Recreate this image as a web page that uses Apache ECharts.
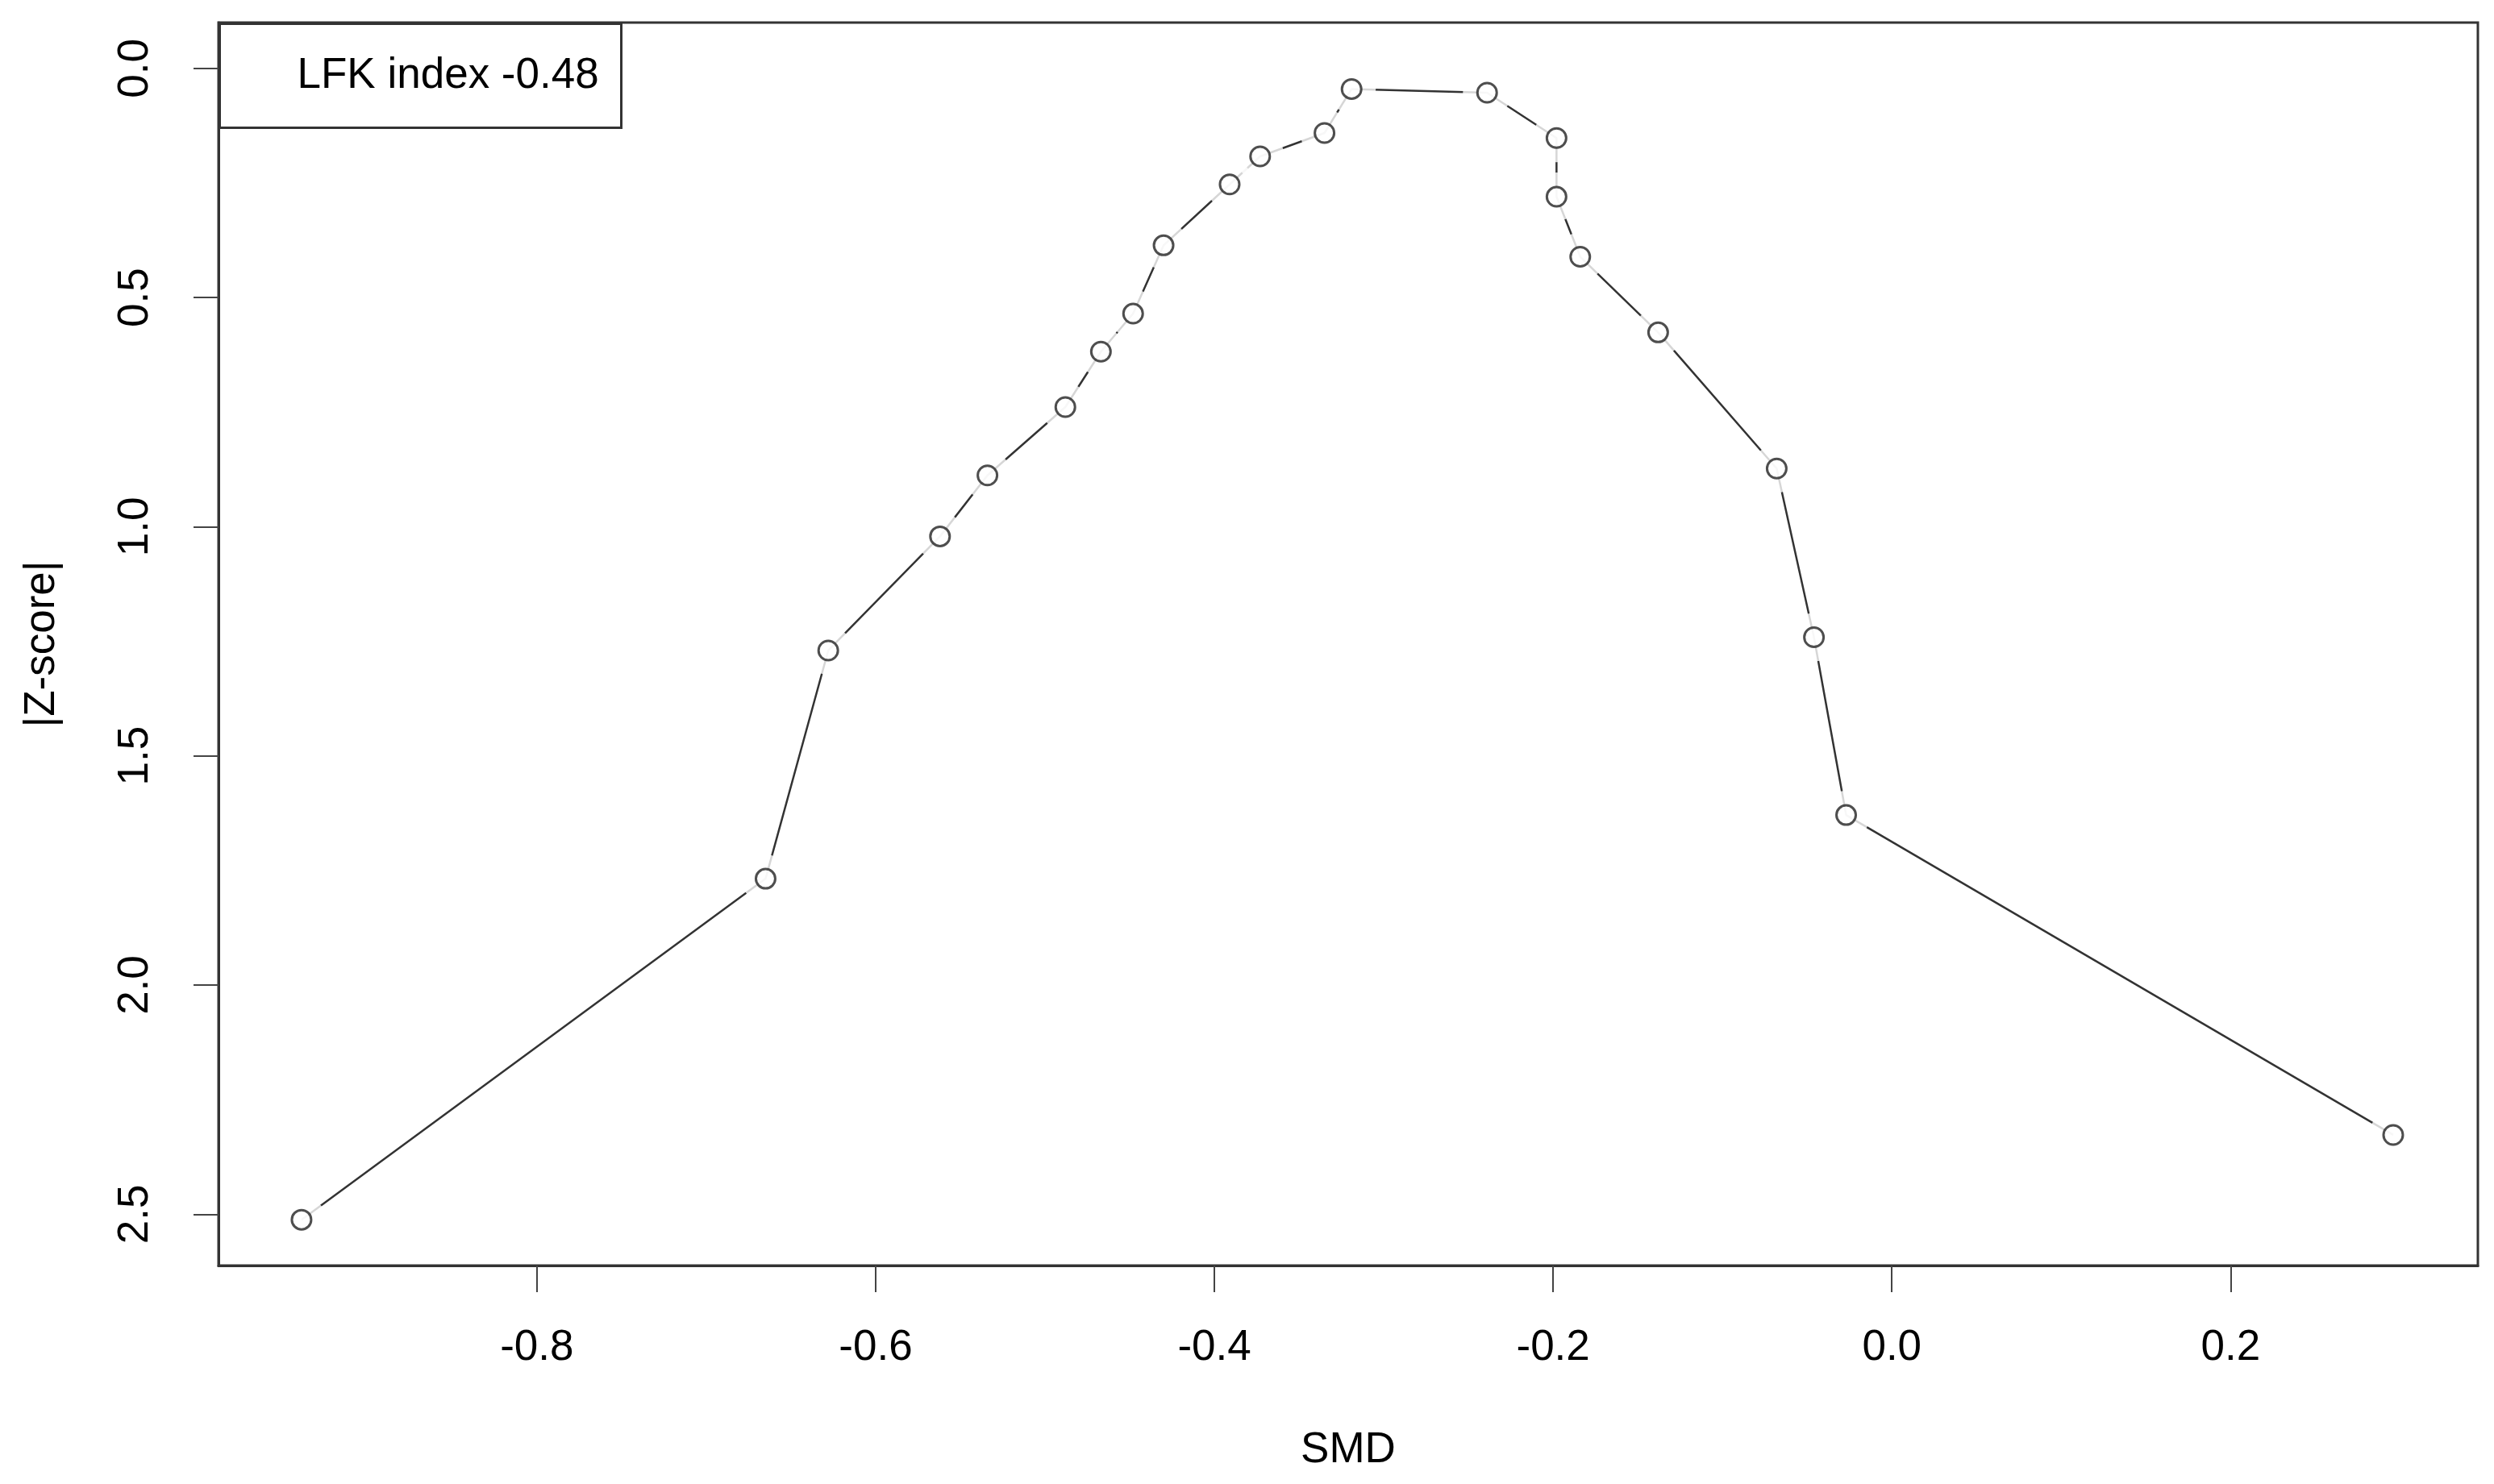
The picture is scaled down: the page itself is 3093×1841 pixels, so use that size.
<!DOCTYPE html>
<html>
<head>
<meta charset="utf-8">
<title>LFK index plot</title>
<script src="https://cdn.jsdelivr.net/npm/echarts@6/dist/echarts.min.js"></script>
<style>
  html, body { margin: 0; padding: 0; background: #fff; }
  #chart { width: 3093px; height: 1841px; }
</style>
</head>
<body>
<div id="chart"></div>
<script>
// SMD per study (x) and |Z-score| (y), in drawing order
const smd = [-0.939, -0.665, -0.628, -0.562, -0.534, -0.488, -0.467, -0.448, -0.430, -0.391, -0.373,
             -0.335, -0.319, -0.239, -0.198, -0.198, -0.184, -0.138, -0.068, -0.046, -0.027, 0.296];
const zscore = [2.512, 1.768, 1.270, 1.021, 0.888, 0.739, 0.618, 0.535, 0.386, 0.253, 0.192,
                0.141, 0.045, 0.053, 0.152, 0.280, 0.411, 0.576, 0.873, 1.241, 1.629, 2.327];
const xTicks = [-0.8, -0.6, -0.4, -0.2, 0.0, 0.2];
const yTicks = [0.0, 0.5, 1.0, 1.5, 2.0, 2.5];
const lfkLabel = 'LFK index -0.48';

const font = '"Liberation Sans", Arial, sans-serif';
const ink = '#222';
const frame = { show: true, onZero: false, lineStyle: { color: '#333', width: 3 } };
const points = smd.map((x, i) => [x, zscore[i]]);

const chart = echarts.init(document.getElementById('chart'));
chart.setOption({
  backgroundColor: '#fff',
  animation: false,
  textStyle: { fontFamily: font },
  grid: {
    left: 271, right: 20, top: 28, bottom: 271,
    show: true, borderColor: '#333', borderWidth: 3, backgroundColor: 'transparent'
  },
  xAxis: {
    type: 'value',
    min: -0.988, max: 0.346,
    name: 'SMD',
    nameLocation: 'middle',
    nameGap: 203,
    nameTextStyle: { fontSize: 53, color: '#000', fontFamily: font },
    axisLine: frame,
    splitLine: { show: false },
    axisTick: { show: true, length: 33, customValues: xTicks, lineStyle: { color: '#444', width: 2 } },
    axisLabel: {
      customValues: xTicks, margin: 76, fontSize: 53, color: '#000', fontFamily: font,
      formatter: v => v.toFixed(1)
    }
  },
  yAxis: {
    type: 'value',
    inverse: true,
    min: -0.1, max: 2.612,
    name: '|Z-score|',
    nameLocation: 'middle',
    nameRotate: 90,
    nameGap: 192,
    nameTextStyle: { fontSize: 53, color: '#000', fontFamily: font },
    axisLine: frame,
    splitLine: { show: false },
    axisTick: { show: true, length: 31, customValues: yTicks, lineStyle: { color: '#444', width: 2 } },
    axisLabel: {
      customValues: yTicks, margin: 76, rotate: 90, fontSize: 53, color: '#000', fontFamily: font,
      formatter: v => v.toFixed(1)
    }
  },
  series: [
    {
      // connecting line
      type: 'line',
      data: points,
      symbol: 'none',
      lineStyle: { color: '#333', width: 2.5 },
      z: 1
    },
    {
      // white discs, so the line stops short of each point like R's type = "b"
      type: 'scatter',
      data: points,
      symbol: 'circle',
      symbolSize: 60,
      itemStyle: { color: '#fff' },
      z: 2,
      silent: true
    },
    {
      type: 'scatter',
      data: points,
      symbol: 'circle',
      symbolSize: 24,
      itemStyle: { color: '#fff', borderColor: ink, borderWidth: 3 },
      z: 3
    }
  ],
  graphic: [{
    type: 'group',
    left: 271, top: 28,
    children: [{
      type: 'rect',
      shape: { x: 0, y: 0, width: 498, height: 129 },
      style: { fill: '#fff', stroke: '#333', lineWidth: 3 }
    }, {
      type: 'text',
      x: 96, y: 65,
      style: { text: lfkLabel, font: '53px ' + font, fill: '#000', verticalAlign: 'middle' }
    }]
  }]
});
</script>
</body>
</html>
